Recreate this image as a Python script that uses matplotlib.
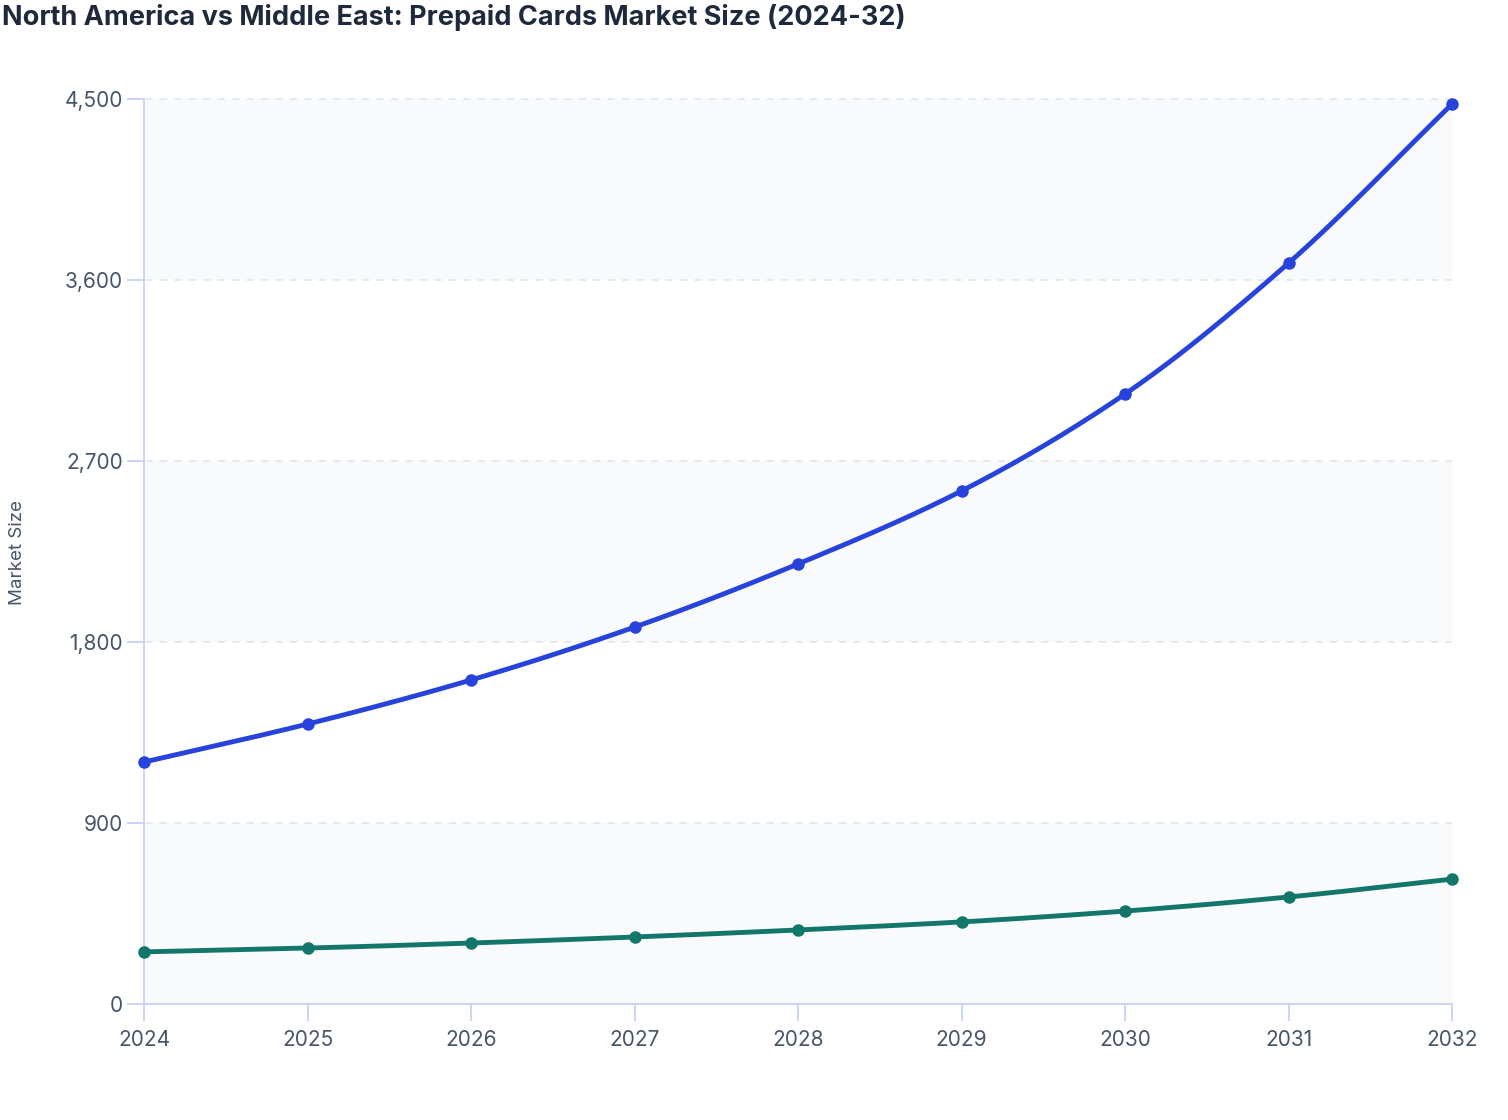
import numpy as np
import matplotlib.pyplot as plt

plt.rcParams['font.family'] = ['Inter', 'DejaVu Sans']

years = [2024, 2025, 2026, 2027, 2028, 2029, 2030, 2031, 2032]
north_america = [1203, 1392, 1611, 1874, 2188, 2551, 3033, 3684, 4475]
middle_east = [259, 278, 303, 333, 368, 408, 462, 532, 621]
y_ticks = [0, 900, 1800, 2700, 3600, 4500]


def monotone_curve(x, y, n=40):
    # Fritsch-Carlson monotone cubic, only for drawing the line smoothly
    x = np.asarray(x, float)
    y = np.asarray(y, float)
    h = np.diff(x)
    d = np.diff(y) / h
    m = np.zeros_like(y)
    m[0], m[-1] = d[0], d[-1]
    for i in range(1, len(y) - 1):
        if d[i - 1] * d[i] > 0:
            m[i] = 2 / (1 / d[i - 1] + 1 / d[i])
    xs, ys = [], []
    for i in range(len(h)):
        t = np.linspace(0, 1, n)
        h00 = 2 * t**3 - 3 * t**2 + 1
        h10 = t**3 - 2 * t**2 + t
        h01 = -2 * t**3 + 3 * t**2
        h11 = t**3 - t**2
        xs.append(x[i] + t * h[i])
        ys.append(h00 * y[i] + h10 * h[i] * m[i] + h01 * y[i + 1] + h11 * h[i] * m[i + 1])
    return np.concatenate(xs), np.concatenate(ys)


fig = plt.figure(figsize=(15.08, 11.2), dpi=100)
ax = fig.add_axes([0.0955, 0.1036, 0.8674, 0.808])

# alternating bands
for i in range(len(y_ticks) - 1):
    if i % 2 == 0:
        ax.axhspan(y_ticks[i], y_ticks[i + 1], color='#f8fafc', zorder=0, lw=0)

for t in y_ticks[1:]:
    ax.plot([2024 - 0.08, 2032], [t, t], color='#e2e8f0', lw=1.3, ls=(0, (4, 4)),
            clip_on=False, zorder=1)

for vals, col in [(north_america, '#2743db'), (middle_east, '#13766a')]:
    cx, cy = monotone_curve(years, vals)
    ax.plot(cx, cy, color=col, lw=3.5, zorder=3, solid_capstyle='round', clip_on=False)
    ax.plot(years, vals, 'o', color=col, ms=8, zorder=4, clip_on=False)

ax.set_xlim(2024, 2032)
ax.set_ylim(0, 4500)
ax.set_xticks(years)
ax.set_yticks(y_ticks)
ax.set_yticklabels([f'{v:,}' for v in y_ticks])

for side in ['top', 'right']:
    ax.spines[side].set_visible(False)
for side in ['left', 'bottom']:
    ax.spines[side].set_color('#c7d2f5')
    ax.spines[side].set_linewidth(1.3)
ax.tick_params(colors='#c7d2f5', width=1.3, length=12, labelcolor='#475569', labelsize=15)
ax.tick_params(axis='x', pad=7)
ax.tick_params(axis='y', pad=3)

fig.text(0.0113, 0.507, 'Market Size', color='#475569', fontsize=13.5,
         rotation=90, ha='center', va='center')

fig.text(0.001, 0.984, 'North America vs Middle East: Prepaid Cards Market Size (2024-32)',
         fontsize=19.5, fontweight='bold', color='#1e293b', ha='left', va='center')

fig.savefig('out.png', dpi=100, facecolor='white')
